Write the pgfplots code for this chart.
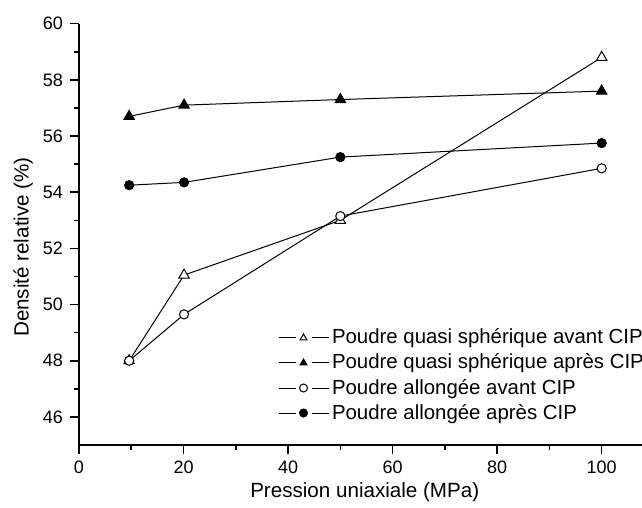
\documentclass[border=0pt]{standalone}
\usepackage{pgfplots}
\pgfplotsset{compat=1.18}
\usepackage{fontspec}
\setmainfont{Liberation Sans}
\begin{document}
\begin{tikzpicture}
\begin{axis}[
  scale only axis,
  width=287.5pt, height=210.65pt,
  xmin=0, xmax=110, ymin=45, ymax=60,
  clip=false,
  axis x line=bottom, axis y line=left,
  axis line style={-, line width=1pt},
  xtick={0,20,40,60,80,100},
  ytick={46,48,50,52,54,56,58,60},
  minor x tick num=1, minor y tick num=1,
  tick align=outside,
  major tick length=4.5pt, minor tick length=2.5pt,
  every tick/.style={black, line width=0.8pt},
  /pgf/number format/assume math mode=true,
  tick label style={font=\fontsize{9}{10}\selectfont},
  xlabel={Pression uniaxiale (MPa)},
  ylabel={Densité relative (\%)},
  label style={font=\fontsize{10.3}{12}\selectfont},
  xlabel style={at={(axis description cs:0.497,-0.112)}, anchor=center},
  ylabel style={at={(axis description cs:-0.097,0.47)}, anchor=center},
  legend style={at={(axis description cs:0.335,0.293)}, anchor=north west, draw=none, fill=none,
    font=\fontsize{10.2}{12}\selectfont, row sep=0.5pt,
    nodes={inner sep=1.5pt}},
  legend cell align=left,
  legend image code/.code={
    \draw[mark=none] (0pt,0pt) -- (8.5pt,0pt);
    \draw[mark=none] (16.5pt,0pt) -- (25pt,0pt);
    \draw[mark size=2pt] plot[only marks] coordinates {(12.5pt,0pt)};},
  every axis plot/.append style={black, line width=0.5pt},
]
\addplot[mark=triangle*, mark size=3pt, mark options={fill=white, line width=0.5pt}] coordinates {(9.6,48.0) (20.1,51.05) (50,53.0) (100,58.8)};
\addlegendentry{Poudre quasi sphérique avant CIP}
\addplot[mark=triangle*, mark size=3pt, mark options={fill=black}] coordinates {(9.6,56.7) (20.1,57.1) (50,57.3) (100,57.6)};
\addlegendentry{Poudre quasi sphérique après CIP}
\addplot[mark=*, mark size=2.3pt, mark options={fill=white, line width=0.5pt}] coordinates {(9.6,48.0) (20.1,49.65) (50,53.15) (100,54.85)};
\addlegendentry{Poudre allongée avant CIP}
\addplot[mark=*, mark size=2.3pt, mark options={fill=black}] coordinates {(9.6,54.25) (20.1,54.35) (50,55.25) (100,55.75)};
\addlegendentry{Poudre allongée après CIP}
\coordinate (bbl) at (axis cs:-15.11,42.79);
\coordinate (btr) at (axis cs:107.71,60.844);
\end{axis}
\pgfresetboundingbox
\useasboundingbox (bbl) rectangle (btr);
\end{tikzpicture}
\end{document}
